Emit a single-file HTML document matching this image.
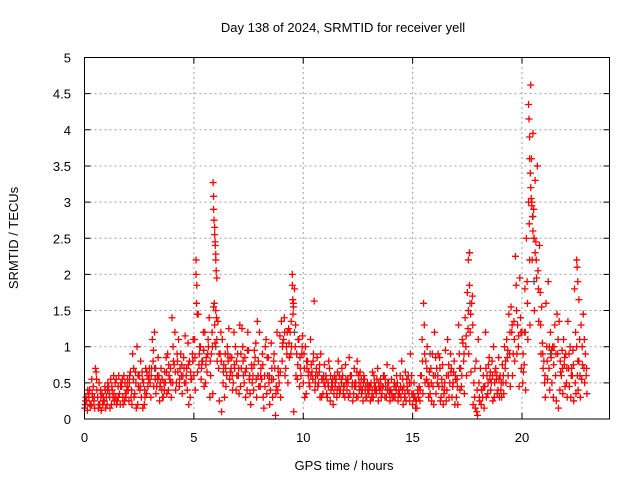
<!DOCTYPE html>
<html><head><meta charset="utf-8"><style>
body{margin:0;background:#fff}
svg{display:block;font-family:"Liberation Sans",sans-serif}
</style></head><body>
<svg id="chart" width="640" height="480">
<text x="343" y="32" font-size="13" text-anchor="middle" fill="#000">Day 138 of 2024, SRMTID for receiver yell</text>
<text x="0" y="0" font-size="13" text-anchor="middle" transform="translate(18,238) rotate(-90)">SRMTID / TECUs</text>
<text x="344" y="470" font-size="13" text-anchor="middle">GPS time / hours</text>
<g id="grid"></g>
<g id="ticks"></g>
<g id="marks"></g>
<rect x="84.5" y="57.5" width="525" height="361.5" fill="none" stroke="#000" stroke-width="1"/>
</svg>
<script>
const xTicks=[0,5,10,15,20];
const yTicks=[0,0.5,1,1.5,2,2.5,3,3.5,4,4.5,5];
const yTickLabels=["0","0.5","1","1.5","2","2.5","3","3.5","4","4.5","5"];
const binStart=0, binStep=0.1;
const seriesA=[.15,.25,.3,.2,.45,.7,.3,.2,.35,.25, .3,.45,.55,.3,.5,.25,.35,.45,.6,.3, .4,.65,.9,.35,1.0,.6,.3,.5,.7,.45, .5,1.1,1.2,.45,.6,.7,.3,.5,.9,.55, 1.4,.75,.5,1.1,.9,.6,1.15,.4,.8,.55, .6,2.2,1.45,1.0,.8,1.2,.65,1.4,.9,1.55, 1.5,1.35,.9,1.1,.3,.6,1.25,.7,.5,1.0, .9,1.3,1.25,.5,.7,.95,.2,.6,.85,1.35, 1.2,.55,.15,1.1,.85,.4,.3,.7,1.2,.5, 1.35,1.1,.7,.5,1.2,2.0,1.8,.9,1.1,.6, .5,1.0,.8,.45,.65,1.63,.7,.5,.9,.35, .45,.3,.7,.5,.35,.55,.8,.4,.6,.3, .4,.85,.6,.35,.5,.3,.65,.4,.55,.3, .35,.5,.3,.45,.7,.4,.35,.6,.3,.5, .4,.7,.3,.5,.35,.8,.45,.25,.6,.9, .2,.3,.15,.45,.6,1.6,.8,.5,.35,.9, 1.2,.7,.45,.3,.2,.95,1.1,.5,.3,.8, .3,1.3,.7,1.05,1.4,1.75,2.3,1.6,.5,.8, 1.1,.7,.3,.45,.6,.85,.5,1.0,.7,.4, .6,.75,1.0,1.1,1.45,1.55,.9,2.25,1.3,1.95, 1.2,.75,2.5,3.0,4.62,3.95,3.3,3.5,2.4,1.55, .8,1.6,1.9,1.2,1.0,1.3,1.45,1.35,.6,1.1, .9,1.35,1.0,.6,1.8,1.0,.8,1.3,1.45,.9];
const seriesB=[.2,.12,.4,.55,.25,.65,.15,.4,.2,.45, .2,.35,.2,.6,.3,.45,.2,.55,.25,.4, .25,.3,.55,.65,.2,.4,.65,.2,.35,.55, .3,.8,.55,.6,.25,.4,.5,.85,.4,.7, .5,1.2,.9,.45,.6,.85,.5,1.05,.3,.9, 1.1,1.85,.75,.55,1.2,.5,.9,.3,1.2,1.6, 1.4,.7,1.2,.5,.9,1.0,.55,.85,1.2,.4, .6,.45,1.0,.85,.4,.55,.75,.4,1.05,.6, .45,.9,.6,.35,.5,1.05,.55,.05,.4,1.15, .8,1.4,1.0,1.25,.9,1.45,1.0,.55,.45,.9, .9,.35,.6,1.1,.55,.4,.85,.65,.3,.6, .6,.5,.25,.45,.6,.3,.45,.55,.35,.75, .55,.35,.45,.7,.3,.6,.45,.25,.4,.5, .45,.3,.6,.35,.25,.55,.45,.3,.75,.4, .55,.3,.45,.25,.6,.4,.3,.55,.35,.5, .35,.15,.4,.25,1.1,1.3,.55,.3,.7,.45, .6,.5,.85,.55,.35,.25,.6,.9,.45,.2, .55,.9,.45,.8,1.0,1.25,1.2,1.7,.3,.1, .5,.2,.6,1.2,.35,.55,.8,.3,.55,.85, .4,.5,.7,.85,.9,1.2,1.35,1.85,1.0,1.4, .5,1.8,1.9,2.7,3.6,2.9,2.45,2.05,1.75,1.05, .5,1.0,.7,.85,.3,.6,.9,.4,.95,.75, .5,.7,.3,.95,.5,.6,1.1,.55,.7,.6];
const seriesC=[.3,.35,.18,.3,.15,.4,.5,.12,.3,.15, .5,.15,.4,.25,.2,.6,.5,.2,.35,.55, .6,.2,.3,.15,.45,.8,.15,.3,.6,.7, .7,.45,.35,.85,.5,.3,.65,.35,.6,.3, .8,.4,.65,.7,.35,.5,.7,.2,.55,1.1, .4,.65,1.0,.8,.45,.85,1.0,.6,.35,1.05, .8,.25,.1,.75,.45,.8,.65,.4,.7,.6, .35,.7,.6,.3,1.2,.35,.5,.95,.3,.45, .7,.3,1.0,.6,.2,.7,.9,.45,.6,.3, 1.05,.6,1.2,.85,1.0,.1,.6,1.1,.7,1.15, .3,.7,.5,.75,.9,.6,.45,.3,.55,.75, .35,.8,.4,.2,.5,.65,.35,.7,.45,.5, .3,.6,.25,.5,.8,.4,.35,.6,.3,.45, .25,.65,.4,.55,.45,.3,.6,.45,.5,.25, .3,.5,.6,.4,.3,.2,.65,.4,.25,.35, .5,.25,.3,.6,.35,.5,1.0,.65,.25,.2, .35,.9,.25,.75,.5,.4,.3,.7,.65,.55, .2,.4,1.1,.35,.6,.9,.65,.2,.15,.05, .25,.4,.15,.3,.75,.4,.25,.65,.35,.3, .3,.35,.5,.6,.45,.6,.8,.9,.45,.7, .65,.4,1.1,1.3,2.2,1.5,1.95,1.35,.9,.7, .3,.55,.4,.5,1.0,.25,.15,.65,.35,.45, .3,.45,.7,.25,.35,.4,.3,.75,.5,.35];
const seriesD=[.25,.4,.2,.35,.3,.55,.2,.3,.25,.4, .4,.3,.45,.35,.55,.3,.45,.3,.5,.45, .5,.4,.7,.5,.6,.45,.55,.4,.65,.6, .6,.95,.7,.55,.45,.55,.4,.65,.75,.5, 1.0,.65,.8,.55,.75,.7,.6,.75,.65,.8, .85,1.45,.9,.7,.95,.75,1.1,.8,1.0,1.3, 1.1,.9,.8,.65,.7,.9,.85,.6,.75,.8, .7,.9,.8,.65,.95,.6,.7,.75,.55,.8, .6,.75,.45,.85,.6,.55,.8,.35,.7,.65, 1.0,1.2,.9,1.05,1.35,1.6,1.3,.75,.85,1.0, .7,.8,.65,.6,.8,.5,.6,.75,.55,.5, .55,.45,.6,.55,.45,.4,.6,.5,.45,.55, .5,.6,.5,.45,.65,.5,.55,.5,.45,.4, .45,.4,.5,.4,.5,.45,.45,.55,.4,.35, .35,.45,.4,.35,.45,.55,.35,.45,.5,.6, .3,.25,.35,.4,.8,.9,.7,.45,.5,.6, .85,.6,.7,.45,.4,.6,.75,.65,.5,.6, .45,.7,.6,.9,1.15,1.5,1.45,1.3,.7,.4, .3,.4,.45,.7,.5,.65,.6,.5,.6,.55, .5,.6,.8,.95,1.2,1.3,1.1,1.5,1.15,1.2, .9,1.2,1.6,2.2,3.0,2.5,2.2,1.8,1.3,.9, .6,.8,1.0,.95,.75,.9,1.1,.8,.7,.85, .7,.9,.6,.75,1.2,.8,.6,1.0,1.1,.7];
const extraT=[5.1,5.12,5.88,5.9,5.9,5.92,5.95,5.95,5.97,5.98,6.0,6.0,6.02,6.05,9.5,9.52,9.55,17.55,17.6,20.3,20.32,20.35,20.35,20.38,20.4,20.42,20.45,20.48,20.5,20.55,20.6,22.5,22.52,22.55,22.6];
const extraV=[2.0,1.6,3.27,3.08,2.9,2.75,2.65,2.55,2.45,2.4,2.28,2.2,2.05,1.95,1.85,1.65,1.55,2.2,1.85,4.35,4.15,3.9,3.6,3.4,3.2,3.05,2.95,2.8,2.6,2.5,2.3,2.2,2.1,1.9,1.65];
const grayT=[6.0,9.6,15.8,17.6,17.62,20.1,20.5,20.55,21.3,22.3,3.2,12.4];
const grayV=[1.0,1.2,0.9,2.3,1.6,1.2,2.8,1.9,0.9,0.6,0.7,0.45];

const X0=84.5,X1=609.5,Y0=419,Y1=57.5,XMAX=24,YMAX=5;
const xs=v=>X0+(v/XMAX)*(X1-X0);
const ys=v=>Y0-(v/YMAX)*(Y0-Y1);
const NS="http://www.w3.org/2000/svg";
const grid=document.getElementById('grid'),ticks=document.getElementById('ticks'),marks=document.getElementById('marks');
function mk(tag,attrs,parent){const e=document.createElementNS(NS,tag);for(const k in attrs)e.setAttribute(k,attrs[k]);parent.appendChild(e);return e;}
xTicks.forEach(t=>{
  const x=xs(t);
  if(t>0){const g=mk('line',{x1:x,x2:x,y1:Y0,y2:Y1,stroke:'#a0a0a0','stroke-dasharray':'2,3'},grid);
  
  }
  const tk=mk('path',{d:`M${x},${Y0}v-6M${x},${Y1}v6`,stroke:'#000'},ticks);
  
  
  const l=mk('text',{x:x,y:442,'font-size':13,'text-anchor':'middle'},ticks);l.textContent=String(t);
  
  
});
yTicks.forEach((t,i)=>{
  const y=ys(t);
  if(t>0&&t<5){const g=mk('line',{x1:X0,x2:X1,y1:y,y2:y,stroke:'#a0a0a0','stroke-dasharray':'2,3'},grid);
  
  }
  const tk=mk('path',{d:`M${X0},${y}h6M${X1},${y}h-6`,stroke:'#000'},ticks);
  
  
  const l=mk('text',{x:71,y:y+5,'font-size':13,'text-anchor':'end'},ticks);l.textContent=yTickLabels[i];
  
  
});
function plus(t,v,color){
  const x=xs(t),y=ys(v);
  const p=mk('path',{d:`M${x-3.5},${y}h7M${x},${y-3.5}v7`,stroke:color,'stroke-width':1.3,fill:'none'},marks);
  
  
}
grayT.forEach((t,i)=>plus(t,grayV[i],'#555'));
seriesA.forEach((v,i)=>plus(binStart+i*binStep,v,'#f00'));
seriesB.forEach((v,i)=>plus(binStart+i*binStep+0.033,v,'#f00'));
seriesC.forEach((v,i)=>plus(binStart+i*binStep+0.066,v,'#f00'));
seriesD.forEach((v,i)=>plus(binStart+i*binStep+0.05,v,'#f00'));
extraT.forEach((t,i)=>plus(t,extraV[i],'#f00'));
</script>
</body></html>
